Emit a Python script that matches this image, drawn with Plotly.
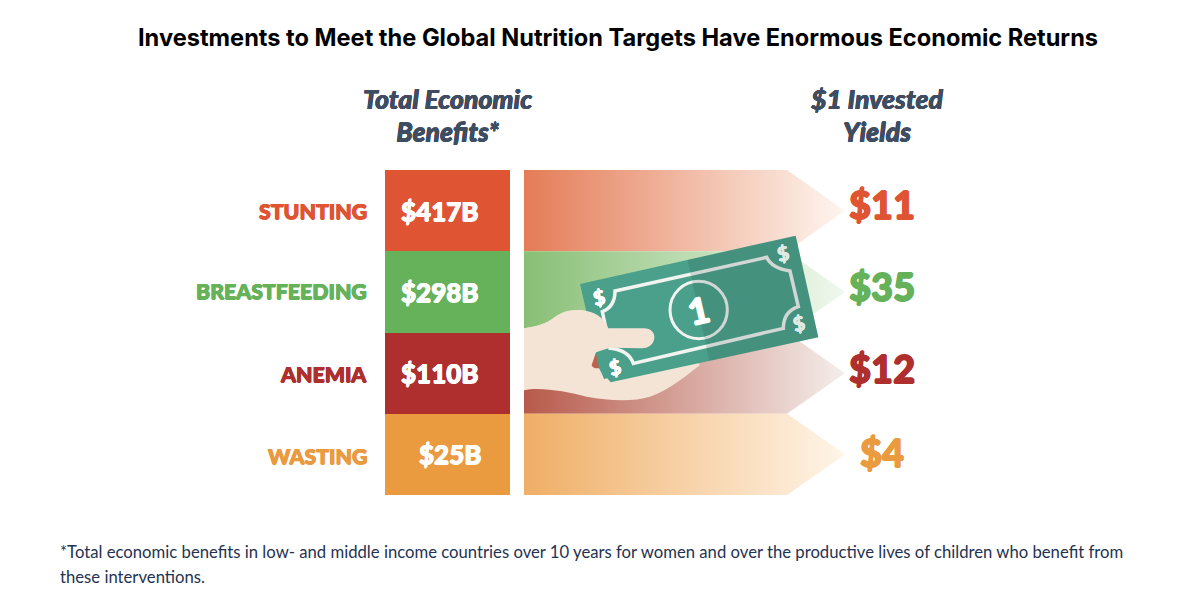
import plotly.graph_objects as go

categories = ["STUNTING", "BREASTFEEDING", "ANEMIA", "WASTING"]
benefits = ["$417B", "$298B", "$110B", "$25B"]
yields = ["$11", "$35", "$12", "$4"]
colors = ["#df5533", "#66b25a", "#ae2f2d", "#ea9a3f"]
arrow_start = ["#e47c57", "#88bf75", "#b75a4b", "#efae66"]
arrow_end = ["#fef6f0", "#f0f8ee", "#f5eeeb", "#fff5e8"]
rows = [0, 1, 2, 3]

W, H = 1200, 616
M = 8  # the page's own body margin
TOP, BOTTOM = 170, 495
BAR_LEFT, BAR_WIDTH = 385, 125
ARROW_LEFT, ARROW_SHOULDER, ARROW_TIP = 524, 787, 845
HEAD = "#3f4d63"
SKIN = "#f4e4d6"
BILL = "#4aa08a"
FRAME = "#f1f4f0"
# small nudges so the labels sit where the reference has them
YIELD_SHIFT = [7, 6, 5, 2]
LABEL_SHIFT = [0, 1, -1, -2]
BENEFIT_NUDGE = [0, 0, 0, 3]


def px(x):
    return (x - M) / (W - 2 * M)


def py(y):
    return 1 - (y - M) / (H - 2 * M)


def heavy(color, amount=0.5):
    # no black cut of Lato here, a thin shadow thickens the bold
    return f"{amount}px 0 0 {color}, -{amount}px 0 0 {color}, 0 {amount}px 0 {color}, 0 -{amount}px 0 {color}"


fig = go.Figure()

fig.add_trace(go.Bar(
    y=rows, x=[BAR_WIDTH] * 4, base=BAR_LEFT, orientation="h", width=1,
    marker=dict(color=colors, line=dict(width=0)), hoverinfo="skip", showlegend=False,
))

for i in rows:
    fig.add_trace(go.Scatter(
        x=[ARROW_LEFT, ARROW_SHOULDER, ARROW_TIP, ARROW_SHOULDER, ARROW_LEFT, ARROW_LEFT],
        y=[i - 0.5, i - 0.5, i, i + 0.5, i + 0.5, i - 0.5],
        mode="lines", line=dict(width=0), fill="toself",
        fillgradient=dict(type="horizontal", colorscale=[[0, arrow_start[i]], [1, arrow_end[i]]]),
        hoverinfo="skip", showlegend=False,
    ))

# keeps the overlay axes alive for the illustration
fig.add_trace(go.Scatter(x=[], y=[], xaxis="x2", yaxis="y2", showlegend=False))

# illustration, drawn on the overlay axes x2/y2
palm = ("M12,490 C50,485 80,475 100,460 C130,435 170,432 200,438 L500,560 L540,600 "
        "C500,630 450,675 390,695 C340,710 270,708 200,695 C140,680 60,665 12,676 Z")
thumb_nail = "M232,560 C205,570 205,600 225,610 L250,610 Z"
bill = "M180,357 L827,212 L895,517 L272,652 L262,640 L252,642 L245,625 L237,610 L228,565 Z"
frame = ("M285,378 L740,277 Q755,310 810,318 L835,425 Q790,440 790,490 L340,595 "
         "Q325,555 270,550 L247,440 Q285,425 285,378 Z")
shade = "M503,285 L827,212 L895,517 L568,588 Z"
finger = ("M12,490 C50,485 80,475 100,460 C130,435 170,432 200,438 C235,445 255,465 265,490 L370,490 "
          "C395,490 405,505 403,520 C400,540 385,550 365,550 L270,548 L228,562 L215,600 L12,600 Z")


def shape(path, color, line=None, width=0):
    return dict(type="path", xref="x2", yref="y2", path=path, fillcolor=color,
                line=dict(color=line or color, width=width), layer="above")


shapes = [
    shape(palm, SKIN),
    shape(thumb_nail, "#c0634e"),
    shape(bill, BILL),
    shape(frame, "rgba(0,0,0,0)", FRAME, 3.5),
    dict(type="circle", xref="x2", yref="y2", x0=450, x1=622, y0=349, y1=521,
         line=dict(color=FRAME, width=3), layer="above"),
    shape(shade, "rgba(40,70,70,0.16)"),
    shape(finger, SKIN),
]


def page_text(text, x, y, font, anchor="center"):
    return dict(text=text, xref="paper", yref="paper", x=px(x), y=py(y), xanchor=anchor, yanchor="middle",
                showarrow=False, font=font)


def two_lines(first, second):
    # the base size sets the line spacing, the span sets the glyph size
    span = '<span style="font-size:26.6px">'
    return f"{span}{first}</span><br>{span}{second}</span>"


head_font = dict(family="Lato", size=25, color=HEAD, weight=900, style="italic", shadow=heavy(HEAD, 0.3))
note_font = dict(family="Lato", size=16.7, color="#1f3350")

annotations = [
    page_text("Investments to Meet the Global Nutrition Targets Have Enormous Economic Returns", 618, 37,
              dict(family="Inter", size=23.6, color="#000000", weight=700)),
    page_text(two_lines("Total Economic", "Benefits*"), 447, 116, head_font),
    page_text(two_lines("$1 Invested", "Yields"), 877, 116, head_font),
    page_text("*Total economic benefits in low- and middle income countries over 10 years for women and over the productive lives of children who benefit from",
              58, 552, note_font, "left"),
    page_text("these interventions.", 58, 577, note_font, "left"),
]

for i in rows:
    annotations.append(dict(text=categories[i], x=369, y=i, xref="x", yref="y",
                            xanchor="right", yanchor="middle", yshift=LABEL_SHIFT[i], showarrow=False,
                            font=dict(family="Lato", size=21.3, color=colors[i], weight=900,
                                      shadow=heavy(colors[i]))))
    annotations.append(dict(text=benefits[i], x=481 + BENEFIT_NUDGE[i], y=i, xref="x", yref="y",
                            xanchor="right", yanchor="middle", showarrow=False,
                            font=dict(family="Lato", size=26, color="#ffffff", weight=900,
                                      shadow=heavy("#ffffff"))))
    annotations.append(dict(text=yields[i], x=882, y=i, xref="x", yref="y",
                            yanchor="middle", yshift=YIELD_SHIFT[i], showarrow=False,
                            font=dict(family="Lato", size=38, color=colors[i], weight=900,
                                      shadow=heavy(colors[i], 0.8))))

# the glyphs printed on the bill
annotations.append(dict(text="1", x=535, y=435, xref="x2", yref="y2", showarrow=False, textangle=-13,
                        font=dict(family="Lato", size=36, color="#ffffff", weight=900,
                                  shadow=heavy("#ffffff", 0.8))))
for zx, zy, c in [(238, 395, "#ffffff"), (788, 263, "#dce9e4"), (838, 475, "#dce9e4"), (285, 605, "#ffffff")]:
    annotations.append(dict(text="$", x=zx, y=zy, xref="x2", yref="y2", showarrow=False, textangle=-13,
                            font=dict(family="Lato", size=20, color=c, weight=900, shadow=heavy(c, 0.4))))

fig.update_layout(
    width=W - 2 * M, height=H - 2 * M, margin=dict(l=0, r=0, t=0, b=0),
    paper_bgcolor="white", plot_bgcolor="white", showlegend=False,
    bargap=0, shapes=shapes, annotations=annotations,
    xaxis=dict(range=[M, W - M], domain=[0, 1], visible=False, fixedrange=True),
    yaxis=dict(range=[3.5, -0.5], domain=[py(BOTTOM), py(TOP)], visible=False, fixedrange=True),
    # overlay axes in the coordinates the illustration was measured in
    xaxis2=dict(range=[(M - 520) * 3, (W - M - 520) * 3], domain=[0, 1], overlaying="x", anchor="y2",
                visible=False, fixedrange=True),
    yaxis2=dict(range=[(BOTTOM - 165) * 3, (TOP - 165) * 3], overlaying="y", anchor="x2",
                visible=False, fixedrange=True),
)

fig.write_html("out.html")
